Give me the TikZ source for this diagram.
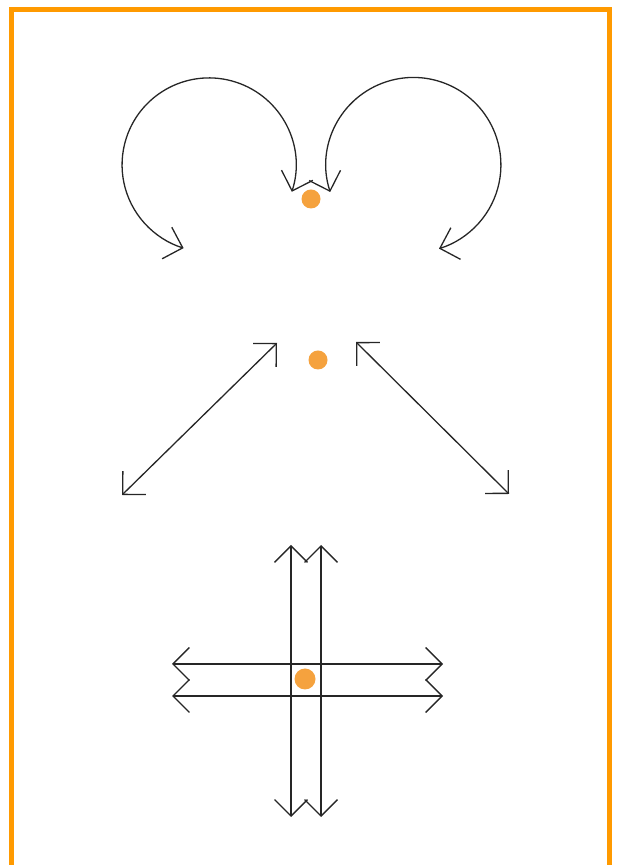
\documentclass[tikz,border=0pt]{standalone}
\usepackage{tikz}
\usetikzlibrary{arrows.meta}
\definecolor{frameorange}{HTML}{FF9A00}
\definecolor{dotorange}{HTML}{F5A23E}

\begin{document}
\begin{tikzpicture}[x=1pt,y=1pt,>={Straight Barb[length=16.5pt,width=33pt]},
    every node/.style={circle,fill=dotorange,inner sep=0pt,minimum size=19pt},
    move/.style={<->,line width=1.3pt,black!85}]
    \useasboundingbox (0,0) rectangle (618,865);
    \draw[frameorange,line width=5pt,line join=miter] (11,-10)--(11,855.5)--(609.5,855.5)--(609.5,-10);

    % turning
    \node (d1) at (311,666) {};
    \coordinate (la) at (291.8,673.2);
    \coordinate (ra) at (330.2,673.0);
    \draw[move] (la) arc[start angle=-18,end angle=253,radius=87];
    \draw[move] (ra) arc[start angle=198,end angle=-73,radius=87.5];

    % diagonal
    \node (d2) at (318,505) {};
    \coordinate (ll) at (122,370);
    \coordinate (lu) at (277,522);
    \coordinate (rl) at (509,371);
    \coordinate (ru) at (356,523);
    \draw[move] (ll)--(lu);
    \draw[move] (ru)--(rl);

    % cross
    \node[minimum size=21pt] (d3) at (305,186) {};
    \coordinate (v1t) at (291,320);
    \coordinate (v1b) at (291,48);
    \coordinate (v2t) at (321,320);
    \coordinate (v2b) at (321,48);
    \coordinate (h1l) at (172,201);
    \coordinate (h1r) at (443,201);
    \coordinate (h2l) at (172,169);
    \coordinate (h2r) at (443,169);
    \draw[move] (v1b)--(v1t);
    \draw[move] (v2b)--(v2t);
    \draw[move] (h1l)--(h1r);
    \draw[move] (h2l)--(h2r);
\end{tikzpicture}
\end{document}
